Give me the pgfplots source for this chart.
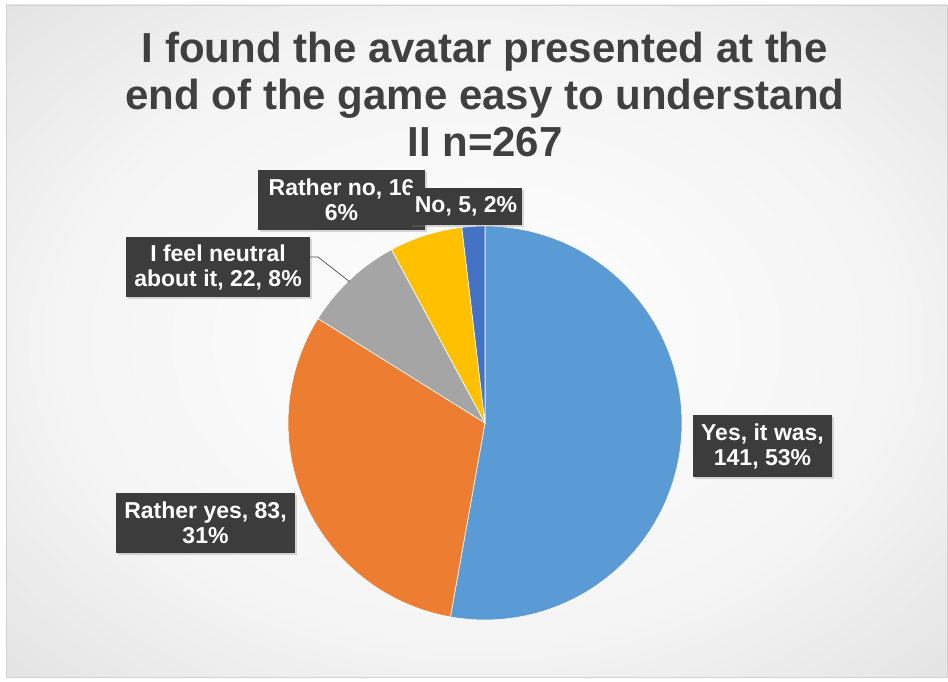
\documentclass[border=0pt]{standalone}
\usepackage{pgfplots}
\pgfplotsset{compat=1.18}
\usepackage{fontspec}
\setmainfont{Liberation Sans}
\usetikzlibrary{shadows}
\definecolor{cYes}{HTML}{5B9BD5}
\definecolor{cRY}{HTML}{ED7D31}
\definecolor{cNeu}{HTML}{A5A5A5}
\definecolor{cRN}{HTML}{FFC000}
\definecolor{cNo}{HTML}{4472C4}
\definecolor{boxc}{HTML}{3C3C3C}
\definecolor{titlec}{HTML}{404040}
\pgfdeclareradialshading{bgshade}{\pgfpoint{0bp}{0bp}}{color(0bp)=(white); color(22bp)=(white!96!black); color(50bp)=(white!82!black); color(71bp)=(white!76!black)}
% data: counts
\def\nYes{141}\def\nRY{83}\def\nNeu{22}\def\nRN{16}\def\nNo{5}
\pgfmathsetmacro\tot{\nYes+\nRY+\nNeu+\nRN+\nNo}
\pgfmathsetmacro\aA{90}
\pgfmathsetmacro\aB{\aA-\nYes/\tot*360}
\pgfmathsetmacro\aC{\aB-\nRY/\tot*360}
\pgfmathsetmacro\aD{\aC-\nNeu/\tot*360}
\pgfmathsetmacro\aE{\aD-\nRN/\tot*360}
\pgfmathsetmacro\aF{\aE-\nNo/\tot*360}
\tikzset{lbl/.style={fill=boxc, text=white, font=\fontsize{23}{25}\selectfont\bfseries, align=center, inner sep=0pt, drop shadow={shadow xshift=2pt, shadow yshift=-2pt, opacity=0.3}}}
\begin{document}
\begin{tikzpicture}
\fill[white] (0pt,0pt) rectangle (948pt,681pt);
\shade[shading=bgshade] (6pt,4pt) rectangle (947pt,676pt);
\draw[gray!35, line width=0.8pt] (6pt,4pt) rectangle (947pt,676pt);
% title
\node[anchor=base, text=titlec, font=\fontsize{42}{47}\selectfont\bfseries] at (485pt,618pt) {I found the avatar presented at the};
\node[anchor=base, text=titlec, font=\fontsize{42}{47}\selectfont\bfseries] at (485pt,571pt) {end of the game easy to understand};
\node[anchor=base, text=titlec, font=\fontsize{42}{47}\selectfont\bfseries] at (485pt,524pt) {II n=267};
\begin{axis}[at={(485pt,258pt)}, anchor=center, scale only axis, width=394pt, height=394pt,
  xmin=-1, xmax=1, ymin=-1, ymax=1, hide axis, clip=false]
\addplot[fill=cYes, draw=white, line width=0.6pt, domain=\aB:\aA, samples=120] ({cos(x)},{sin(x)}) -- (axis cs:0,0) -- cycle;
\addplot[fill=cRY, draw=white, line width=0.6pt, domain=\aC:\aB, samples=80] ({cos(x)},{sin(x)}) -- (axis cs:0,0) -- cycle;
\addplot[fill=cNeu, draw=white, line width=0.6pt, domain=\aD:\aC, samples=30] ({cos(x)},{sin(x)}) -- (axis cs:0,0) -- cycle;
\addplot[fill=cRN, draw=white, line width=0.6pt, domain=\aE:\aD, samples=25] ({cos(x)},{sin(x)}) -- (axis cs:0,0) -- cycle;
\addplot[fill=cNo, draw=white, line width=0.6pt, domain=\aF:\aE, samples=10] ({cos(x)},{sin(x)}) -- (axis cs:0,0) -- cycle;
\end{axis}
% leader line for neutral
\draw[gray!60!black, line width=0.7pt] (309pt,424pt) -- (318pt,424pt) -- (350pt,399pt);
% labels
\node[lbl, minimum width=139pt, minimum height=62pt] at (762.5pt,235pt) {Yes, it was,\\141, 53\%};
\node[lbl, minimum width=179pt, minimum height=60pt] at (205.5pt,158pt) {Rather yes, 83,\\31\%};
\node[lbl, minimum width=184pt, minimum height=60pt] at (218pt,414pt) {I feel neutral\\about it, 22, 8\%};
\node[lbl, minimum width=167pt, minimum height=60pt] at (341.5pt,481pt) {Rather no, 16\\6\%};
\node[lbl, minimum width=112pt, minimum height=37pt] at (466pt,474.5pt) {No, 5, 2\%};
\end{tikzpicture}
\end{document}
